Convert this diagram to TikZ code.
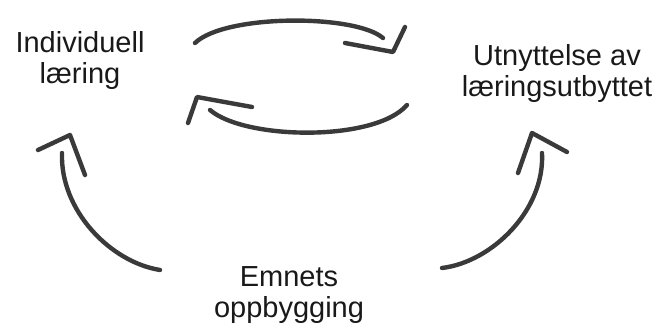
\documentclass[tikz,border=0pt]{standalone}
\usepackage{fontspec}
\setmainfont{Liberation Sans}
\definecolor{ink}{HTML}{3A3A3A}
\begin{document}
\begin{tikzpicture}[x=1pt,y=-1pt,
  lbl/.style={align=center,inner sep=0pt,font=\fontsize{29}{31}\selectfont,text=black!90},
  stroke/.style={draw=ink,line width=4.4pt,line cap=round,line join=round}]
\useasboundingbox (0,0) rectangle (665,329);
\node[lbl] (ind) at (80,60.5) {Individuell\\læring};
\node[lbl] (utn) at (557,74) {Utnyttelse av\\læringsutbyttet};
\node[lbl] (emn) at (289,295.5) {Emnets\\oppbygging};
% top arrow
\coordinate (t1) at (195,43);
\coordinate (t2) at (383,38);
\coordinate (th) at (393,52);
\draw[stroke] (t1) .. controls (225,14) and (355,14) .. (t2);
\draw[stroke] (345,43) -- (th) -- (405,27);
% bottom arrow
\coordinate (b1) at (407,105);
\coordinate (b2) at (210,110);
\coordinate (bh) at (197,97);
\draw[stroke] (b1) .. controls (375,142) and (245,140) .. (b2);
\draw[stroke] (252,107) -- (bh) -- (188,123);
% left arrow
\coordinate (l1) at (160,270);
\coordinate (l2) at (62,153);
\coordinate (lh) at (70,135);
\draw[stroke] (l1) .. controls (110,262) and (60,210) .. (l2);
\draw[stroke] (38,150) -- (lh) -- (85,175);
% right arrow
\coordinate (r1) at (442,268);
\coordinate (r2) at (542,153);
\coordinate (rh) at (532,133);
\draw[stroke] (r1) .. controls (492,262) and (545,210) .. (r2);
\draw[stroke] (518,173) -- (rh) -- (567,152);
\end{tikzpicture}
\end{document}
